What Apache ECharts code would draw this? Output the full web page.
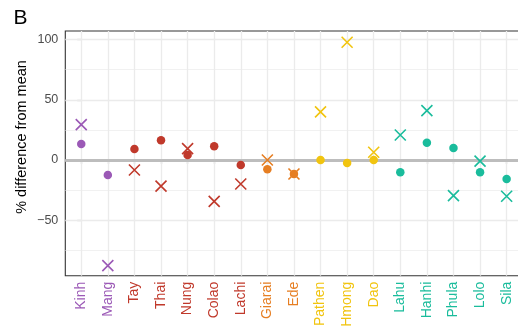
<!DOCTYPE html>
<html>
<head>
<meta charset="utf-8">
<script src="https://cdn.jsdelivr.net/npm/echarts@6/dist/echarts.min.js"></script>
<style>
  html, body { margin: 0; padding: 0; background: #fff; }
  #chart { width: 518px; height: 326px; }
</style>
</head>
<body>
<div id="chart"></div>
<script>
// Ethnic groups along the x axis, with the language-family group of each
const categories = ['Kinh', 'Mang', 'Tay', 'Thai', 'Nung', 'Colao', 'Lachi', 'Giarai', 'Ede',
  'Pathen', 'Hmong', 'Dao', 'Lahu', 'Hanhi', 'Phula', 'Lolo', 'Sila'];
const groups = ['vk', 'vk', 'tk', 'tk', 'tk', 'tk', 'tk', 'an', 'an',
  'hm', 'hm', 'hm', 'st', 'st', 'st', 'st', 'st'];
const groupColors = { vk: '#9B59B6', tk: '#C0392B', an: '#E67E22', hm: '#F1C40F', st: '#1ABC9C' };

// % difference from mean: circle measure and cross measure
const dotValues = [13.3, -12.5, 9.2, 16.4, 4.2, 11.4, -4.2, -7.8, -11.7,
  0, -2.5, 0, -10.3, 14.4, 9.9, -10.2, -15.8];
const crossValues = [29.4, -87.8, -8.3, -21.7, 9.4, -34.4, -20, 0, -11.7,
  40, 97.8, 6.4, 20.8, 41, -29.6, -1, -30.2];

// y tick labels and grid levels
const yTicks = [-50, 0, 50, 100];
const yMinor = [-75, -25, 25, 75];

const idx = categories.map((_, i) => i);
const font = 'Liberation Sans';

const crossPath = 'path://M0,0L10,10M10,0L0,10';

const option = {
  animation: false,
  backgroundColor: '#fff',
  graphic: [
    {
      type: 'text', x: 13.5, y: 18.5, z: 10,
      style: { text: 'B', fontFamily: font, fontSize: 21, fill: '#000', verticalAlign: 'middle', align: 'left' }
    },
    {
      // y axis title
      type: 'text', x: 21.5, y: 137, rotation: Math.PI / 2, z: 10,
      style: { text: '% difference from mean', fontFamily: font, fontSize: 14.5, fill: '#000',
        align: 'center', verticalAlign: 'middle' }
    }
  ],
  grid: {
    left: 65.3, right: -4.6, top: 31, bottom: 50.3,
    outerBoundsMode: 'none', containLabel: false,
    show: true, borderColor: '#333', borderWidth: 1.1, backgroundColor: 'transparent'
  },
  xAxis: {
    type: 'value', min: -0.6, max: 16.6,
    axisLine: { show: false },
    axisTick: { show: true, length: 4, customValues: idx, lineStyle: { color: '#333', width: 1.1 } },
    axisLabel: {
      customValues: idx, rotate: 90, margin: 6, fontFamily: font, fontSize: 14,
      formatter: v => {
        const i = Math.round(v);
        return '{' + groups[i] + '|' + categories[i] + '}';
      },
      rich: Object.fromEntries(Object.entries(groupColors).map(([k, c]) =>
        [k, { color: c, fontFamily: font, fontSize: 14 }]))
    },
    splitLine: { show: false }
  },
  yAxis: {
    type: 'value', min: -96.2, max: 107.2,
    axisLine: { show: false },
    axisTick: { show: true, length: 4, customValues: yTicks, lineStyle: { color: '#333', width: 1.1 } },
    axisLabel: { customValues: yTicks, fontFamily: font, fontSize: 12.5, color: '#4d4d4d', margin: 7,
      formatter: v => (v < 0 ? '\u2212' + Math.abs(v) : String(v)) },
    splitLine: { show: false }
  },
  series: [
    {
      // panel grid lines
      type: 'scatter', data: [], silent: true, z: 1,
      markLine: {
        silent: true, symbol: 'none', label: { show: false }, animation: false, z: 1,
        data: [
          ...yMinor.map(v => ({ yAxis: v, lineStyle: { color: '#ebebeb', width: 0.7, type: 'solid' } })),
          ...yTicks.map(v => ({ yAxis: v, lineStyle: { color: '#ebebeb', width: 1.3, type: 'solid' } })),
          ...idx.map(v => ({ xAxis: v, lineStyle: { color: '#ebebeb', width: 1.3, type: 'solid' } }))
        ]
      }
    },
    {
      // reference line at zero
      type: 'scatter', data: [], silent: true, z: 2,
      markLine: {
        silent: true, symbol: 'none', label: { show: false }, animation: false, z: 2,
        data: [{ yAxis: 0, lineStyle: { color: '#bdbdbd', width: 2.8, type: 'solid', opacity: 1 } }]
      }
    },
    {
      type: 'scatter', z: 4, symbol: 'circle', symbolSize: 8.5,
      data: dotValues.map((v, i) => ({ value: [i, v], itemStyle: { color: groupColors[groups[i]], opacity: 1 } }))
    },
    {
      type: 'scatter', z: 5, symbol: crossPath, symbolSize: 11,
      data: crossValues.map((v, i) => ({
        value: [i, v],
        itemStyle: { color: 'none', borderColor: groupColors[groups[i]], borderWidth: 1.6, opacity: 1 }
      }))
    }
  ]
};

const chart = echarts.init(document.getElementById('chart'), null, { renderer: 'canvas' });
chart.setOption(option);
</script>
</body>
</html>
